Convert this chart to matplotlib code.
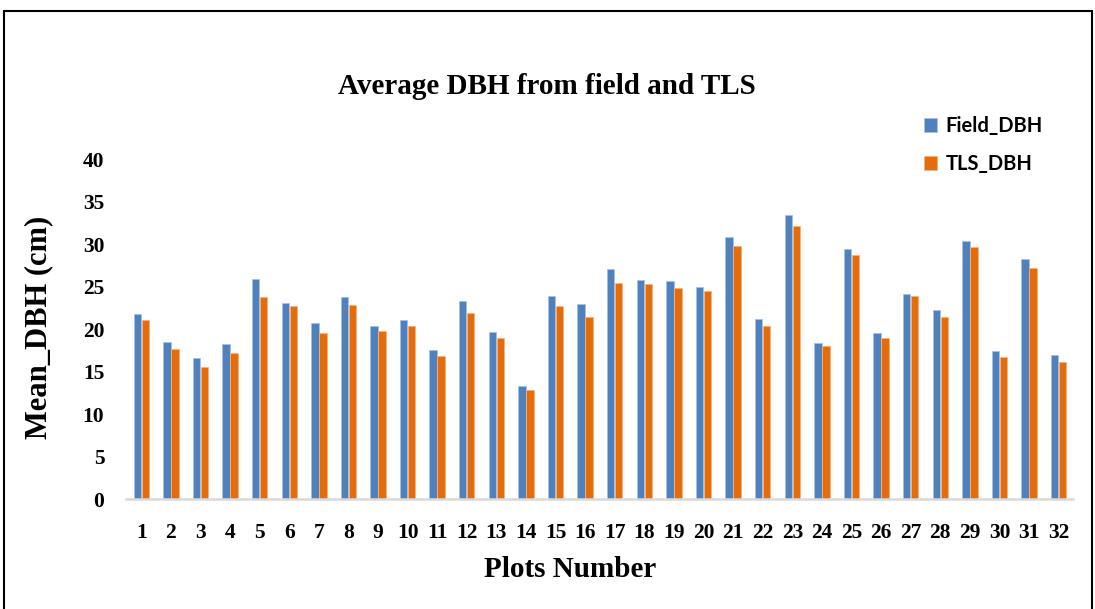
import numpy as np
import matplotlib
matplotlib.use('Agg')
import matplotlib.pyplot as plt
from matplotlib.patches import Rectangle

# 数据
plots = [str(i) for i in range(1, 33)]
field_dbh = [21.8, 18.5, 16.6, 18.2, 25.9, 23.1, 20.7, 23.8, 20.3, 21.1,
             17.5, 23.3, 19.7, 13.3, 23.9, 22.9, 27.1, 25.8, 25.7, 25.0,
             30.8, 21.2, 33.4, 18.4, 29.4, 19.5, 24.1, 22.2, 30.3, 17.4,
             28.2, 16.9]
tls_dbh = [21.1, 17.6, 15.5, 17.2, 23.8, 22.7, 19.5, 22.8, 19.8, 20.3,
           16.8, 21.9, 18.9, 12.8, 22.7, 21.4, 25.4, 25.3, 24.8, 24.5,
           29.8, 20.4, 32.1, 18.0, 28.7, 18.9, 23.9, 21.4, 29.6, 16.7,
           27.2, 16.1]
yticks = [0, 5, 10, 15, 20, 25, 30, 35, 40]

blue = '#4F81BD'
orange = '#E46C0A'
serif = ['Liberation Serif', 'DejaVu Serif']

fig = plt.figure(figsize=(10.95, 6.09), dpi=100)
ax = fig.add_axes([0.1155, 0.1806, 0.8648, 0.5583])

x = np.arange(1, len(plots) + 1)
w = 0.25
ax.bar(x - w / 2 - 0.01, field_dbh, width=w, color=blue, edgecolor='#A9C0E0',
       linewidth=0.6, label='Field_DBH')
ax.bar(x + w / 2 + 0.01, tls_dbh, width=w, color=orange, edgecolor='#F2B385',
       linewidth=0.6, label='TLS_DBH')

ax.set_xlim(0.5, 32.5)
ax.set_ylim(0, 40)
ax.set_xticks(x)
ax.set_xticklabels(plots, fontfamily=serif, fontweight='bold', fontsize=15.5)
ax.set_yticks(yticks)
ax.set_yticklabels([str(v) for v in yticks], fontfamily=serif, fontweight='bold', fontsize=15.5)
ax.tick_params(axis='x', length=0, pad=17)
ax.tick_params(axis='y', length=0, pad=16)

for s in ['top', 'right', 'left']:
    ax.spines[s].set_visible(False)
ax.spines['bottom'].set_color('#D9D9D9')
ax.spines['bottom'].set_linewidth(1.8)

ax.set_xlabel('Plots Number', fontfamily=serif, fontweight='bold', fontsize=21, va='center')
ax.xaxis.set_label_coords(0.469, -0.206)
ax.set_ylabel('Mean_DBH (cm)', fontfamily=serif, fontweight='bold', fontsize=22, va='center')
ax.yaxis.set_label_coords(-0.093, 0.505)

fig.text(0.4995, 0.858, 'Average DBH from field and TLS', ha='center', va='center',
         fontfamily=serif, fontweight='bold', fontsize=21)

ax.legend(loc='upper left', bbox_to_anchor=(0.835, 0.826), bbox_transform=fig.transFigure,
          frameon=False, prop={'family': ['Lato', 'DejaVu Sans'], 'weight': 'bold', 'size': 14.5},
          handlelength=0.65, handleheight=0.65, handletextpad=0.4, labelspacing=0.9,
          borderpad=0)

# 外边框
fig.patches.append(Rectangle((4 / 1095, -0.02), 1088 / 1095, 1 - 11 / 609 + 0.02,
                             transform=fig.transFigure, fill=False, edgecolor='black',
                             linewidth=1.5))

plt.savefig('out.png', dpi=100)
